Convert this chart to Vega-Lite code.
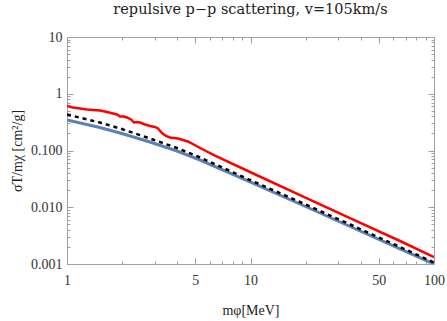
{
  "$schema": "https://vega.github.io/schema/vega-lite/v6.json",
  "width": 367,
  "height": 227,
  "autosize": {"type": "none"},
  "padding": {"left": 67, "top": 37, "right": 13, "bottom": 57},
  "background": "white",
  "title": {"text": "repulsive p−p scattering, v=105km/s", "font": "DejaVu Serif", "fontSize": 14.5, "fontWeight": "normal", "color": "#222222", "offset": 13, "anchor": "middle"},
  "config": {
    "view": {"stroke": "#a0a0a0", "strokeWidth": 1},
    "axis": {"grid": false, "domainColor": "#a0a0a0", "tickColor": "#a0a0a0", "labelFont": "Liberation Serif", "labelFontSize": 14, "labelColor": "#333333", "titleFont": "Liberation Serif", "titleFontSize": 14, "titleFontWeight": "normal", "titleColor": "#222222"}
  },
  "datasets": {
    "curves": [
      {"series": "blue", "m": 1, "s": 0.345},
      {"series": "blue", "m": 1.51, "s": 0.254},
      {"series": "blue", "m": 1.99, "s": 0.199},
      {"series": "blue", "m": 2.83, "s": 0.141},
      {"series": "blue", "m": 3.98, "s": 0.098},
      {"series": "blue", "m": 5.31, "s": 0.068},
      {"series": "blue", "m": 9.94, "s": 0.0279},
      {"series": "blue", "m": 18.6, "s": 0.01141},
      {"series": "blue", "m": 34.9, "s": 0.00458},
      {"series": "blue", "m": 65.3, "s": 0.00184},
      {"series": "blue", "m": 100, "s": 0.001},
      {"series": "black", "m": 1, "s": 0.431},
      {"series": "black", "m": 1.51, "s": 0.311},
      {"series": "black", "m": 1.99, "s": 0.239},
      {"series": "black", "m": 2.83, "s": 0.1627},
      {"series": "black", "m": 3.98, "s": 0.1107},
      {"series": "black", "m": 5.31, "s": 0.0753},
      {"series": "black", "m": 9.94, "s": 0.0302},
      {"series": "black", "m": 18.6, "s": 0.01238},
      {"series": "black", "m": 34.9, "s": 0.00497},
      {"series": "black", "m": 65.3, "s": 0.00199},
      {"series": "black", "m": 100, "s": 0.00106},
      {"series": "red", "m": 1, "s": 0.608},
      {"series": "red", "m": 1.078, "s": 0.5725},
      {"series": "red", "m": 1.177, "s": 0.5498},
      {"series": "red", "m": 1.285, "s": 0.528},
      {"series": "red", "m": 1.386, "s": 0.5173},
      {"series": "red", "m": 1.513, "s": 0.5069},
      {"series": "red", "m": 1.652, "s": 0.4771},
      {"series": "red", "m": 1.781, "s": 0.4487},
      {"series": "red", "m": 1.873, "s": 0.431},
      {"series": "red", "m": 1.944, "s": 0.3973},
      {"series": "red", "m": 2.045, "s": 0.3973},
      {"series": "red", "m": 2.123, "s": 0.3815},
      {"series": "red", "m": 2.233, "s": 0.352},
      {"series": "red", "m": 2.318, "s": 0.3113},
      {"series": "red", "m": 2.407, "s": 0.3177},
      {"series": "red", "m": 2.499, "s": 0.3113},
      {"series": "red", "m": 2.661, "s": 0.287},
      {"series": "red", "m": 2.834, "s": 0.2702},
      {"series": "red", "m": 3.016, "s": 0.2595},
      {"series": "red", "m": 3.132, "s": 0.2441},
      {"series": "red", "m": 3.294, "s": 0.2034},
      {"series": "red", "m": 3.463, "s": 0.18},
      {"series": "red", "m": 3.641, "s": 0.1694},
      {"series": "red", "m": 4.027, "s": 0.1627},
      {"series": "red", "m": 4.564, "s": 0.1441},
      {"series": "red", "m": 5.441, "s": 0.1063},
      {"series": "red", "m": 6.405, "s": 0.0816},
      {"series": "red", "m": 9.94, "s": 0.0418},
      {"series": "red", "m": 18.61, "s": 0.01643},
      {"series": "red", "m": 34.85, "s": 0.00646},
      {"series": "red", "m": 65.27, "s": 0.002542},
      {"series": "red", "m": 100, "s": 0.001328}
    ]
  },
  "data": {"name": "curves"},
  "layer": [
    {
      "transform": [{"filter": "datum.series == 'blue'"}],
      "mark": {"type": "line", "color": "#5E81B5", "strokeWidth": 3, "clip": true},
      "encoding": {
        "x": {"field": "m", "type": "quantitative", "scale": {"type": "log", "domain": [1, 100], "nice": false},
          "axis": {"orient": "bottom", "title": "mφ[MeV]", "titleX": 183.5, "titleY": 46, "titleAlign": "center", "titleBaseline": "middle",
            "values": [1, 2, 3, 4, 5, 6, 7, 8, 9, 10, 20, 30, 40, 50, 60, 70, 80, 90, 100],
            "labelExpr": "(datum.value == 1 || datum.value == 5 || datum.value == 10 || datum.value == 50 || datum.value == 100) ? format(datum.value, 'd') : ''",
            "tickSize": {"condition": {"test": "datum.value == 1 || datum.value == 5 || datum.value == 10 || datum.value == 50 || datum.value == 100", "value": -6}, "value": -3},
            "labelPadding": 15, "labelFlush": false}},
        "y": {"field": "s", "type": "quantitative", "scale": {"type": "log", "domain": [0.001, 10], "nice": false},
          "axis": {"orient": "left", "title": "σT/mχ [cm²/g]", "titleX": -50, "titleY": 113.5, "titleAngle": 270, "titleAlign": "center", "titleBaseline": "middle",
            "values": [0.001, 0.002, 0.003, 0.004, 0.005, 0.006, 0.007, 0.008, 0.009, 0.01, 0.02, 0.03, 0.04, 0.05, 0.06, 0.07, 0.08, 0.09, 0.1, 0.2, 0.3, 0.4, 0.5, 0.6, 0.7, 0.8, 0.9, 1, 2, 3, 4, 5, 6, 7, 8, 9, 10],
            "labelExpr": "abs(log(datum.value)/LN10 - round(log(datum.value)/LN10)) < 0.000001 ? (datum.value >= 1 ? format(datum.value, 'd') : format(datum.value, '.3f')) : ''",
            "tickSize": {"condition": {"test": "abs(log(datum.value)/LN10 - round(log(datum.value)/LN10)) < 0.000001", "value": -6}, "value": -3},
            "labelPadding": 11, "labelFlush": false}}
      }
    },
    {
      "transform": [{"filter": "datum.series == 'black'"}],
      "mark": {"type": "line", "color": "#000000", "strokeWidth": 2.5, "strokeDash": [4, 4], "clip": true},
      "encoding": {
        "x": {"field": "m", "type": "quantitative", "scale": {"type": "log", "domain": [1, 100], "nice": false},
          "axis": {"orient": "top", "title": null, "labels": false, "domain": false,
            "values": [1, 2, 3, 4, 5, 6, 7, 8, 9, 10, 20, 30, 40, 50, 60, 70, 80, 90, 100],
            "tickSize": {"condition": {"test": "datum.value == 1 || datum.value == 5 || datum.value == 10 || datum.value == 50 || datum.value == 100", "value": -6}, "value": -3}}},
        "y": {"field": "s", "type": "quantitative", "scale": {"type": "log", "domain": [0.001, 10], "nice": false},
          "axis": {"orient": "right", "title": null, "labels": false, "domain": false,
            "values": [0.001, 0.002, 0.003, 0.004, 0.005, 0.006, 0.007, 0.008, 0.009, 0.01, 0.02, 0.03, 0.04, 0.05, 0.06, 0.07, 0.08, 0.09, 0.1, 0.2, 0.3, 0.4, 0.5, 0.6, 0.7, 0.8, 0.9, 1, 2, 3, 4, 5, 6, 7, 8, 9, 10],
            "tickSize": {"condition": {"test": "abs(log(datum.value)/LN10 - round(log(datum.value)/LN10)) < 0.000001", "value": -6}, "value": -3}}}
      }
    },
    {
      "transform": [{"filter": "datum.series == 'red'"}],
      "mark": {"type": "line", "color": "#FF0000", "strokeWidth": 2.5, "clip": true},
      "encoding": {
        "x": {"field": "m", "type": "quantitative", "scale": {"type": "log", "domain": [1, 100], "nice": false}, "axis": null},
        "y": {"field": "s", "type": "quantitative", "scale": {"type": "log", "domain": [0.001, 10], "nice": false}, "axis": null}
      }
    }
  ],
  "resolve": {"axis": {"x": "independent", "y": "independent"}}
}
